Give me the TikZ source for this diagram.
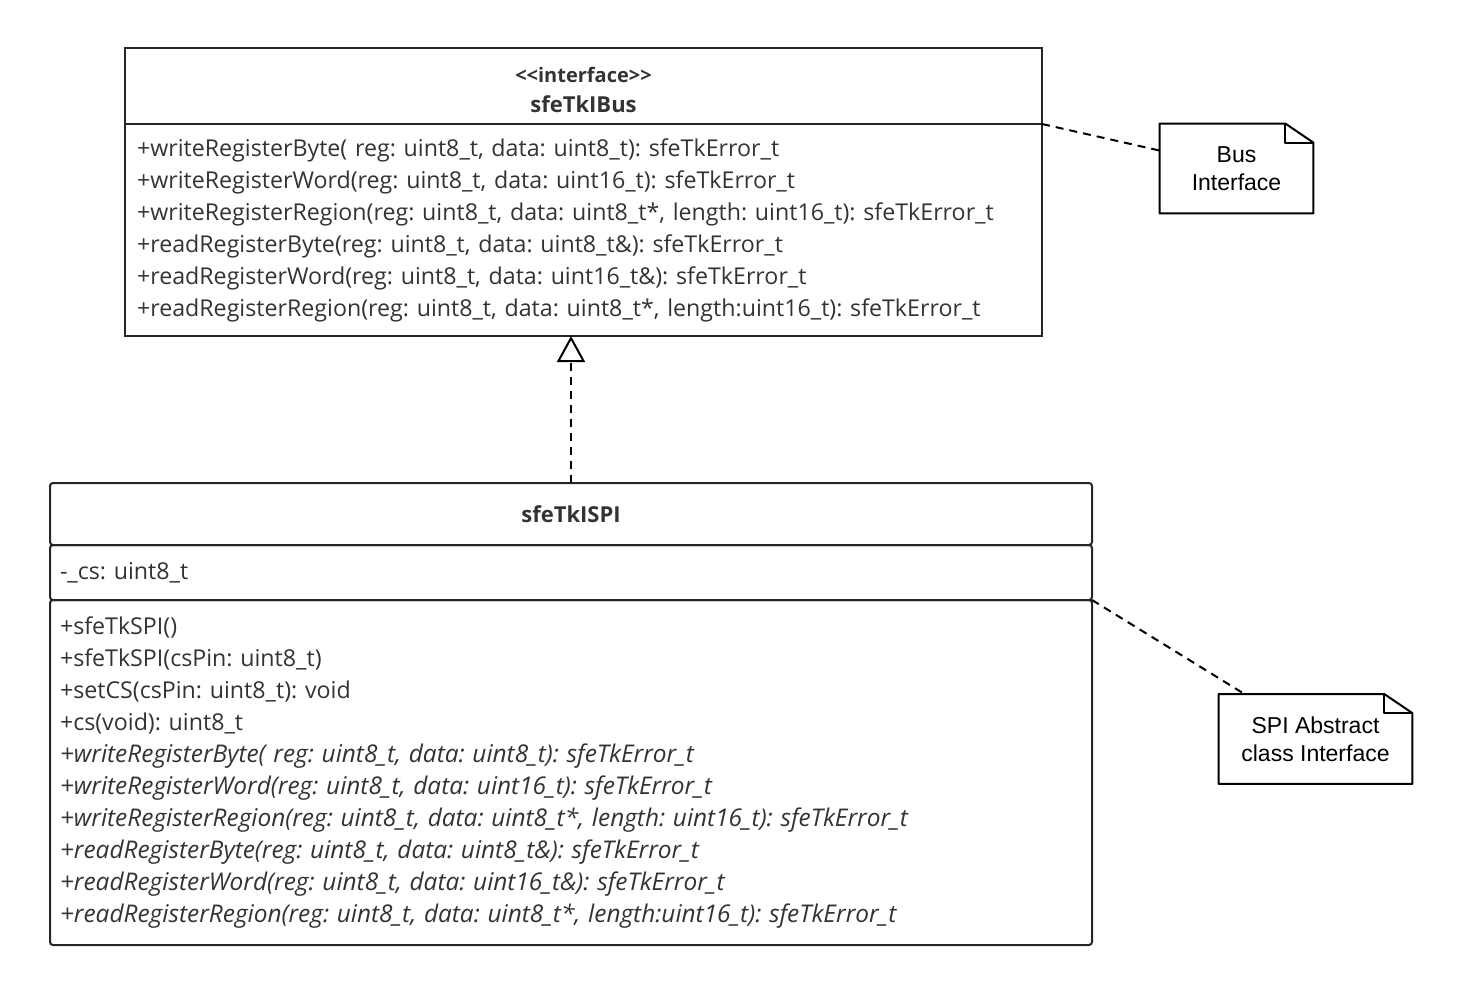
\documentclass[tikz,border=0pt]{standalone}
\usepackage{fontspec}
\setmainfont{Open Sans}
\newfontfamily\notefont{Liberation Sans}
\usetikzlibrary{arrows.meta,positioning,calc}
\frenchspacing

% outline of a UML note with a folded corner
\newcommand{\foldnote}[1]{%
  \draw[noteline] (#1.north west) -- ([xshift=-14pt]#1.north east) -- ([yshift=-9.5pt]#1.north east) -- (#1.south east) -- (#1.south west) -- cycle;
  \draw[noteline] ([xshift=-14pt]#1.north east) -- ([xshift=-14pt,yshift=-9.5pt]#1.north east) -- ([yshift=-9.5pt]#1.north east);
}
\newcommand{\abs}[1]{{\fontsize{12.2}{16}\itshape #1}}

\tikzset{
  part/.style={draw=black!85, line width=1pt, outer sep=0pt, inner xsep=6pt, inner ysep=0pt, align=left, text=black!80,
    font=\fontsize{11.6}{16}\selectfont},
  title/.style={part, align=center, font=\bfseries\fontsize{11}{15}\selectfont},
  spipart/.style={part, rounded corners=1.5pt, inner xsep=5pt},
  note/.style={draw=none, align=center, font=\notefont\fontsize{11.5}{14}\selectfont, minimum height=44.5pt},
  noteline/.style={line width=1pt, line join=round},
  link/.style={line width=1pt, dash pattern=on 4pt off 3pt},
  realize/.style={link, -{Triangle[open, length=13pt, width=14pt, line width=1pt]}}
}

\begin{document}
\begin{tikzpicture}[x=0.5pt, y=-0.5pt]
  \useasboundingbox (0,0) rectangle (1462,996);

  % interface
  \node [title, anchor=north west, minimum width=458.5pt, minimum height=38pt, text height=27pt] (ibushead) at (125,48)
    {{\fontsize{10}{15}\selectfont <{}<interface>{}>}\\sfeTkIBus};
  \node [part, below=0pt of ibushead, minimum width=458.5pt, minimum height=106pt, text width=446.5pt] (ibusops)
    {+writeRegisterByte( reg: uint8\_t, data: uint8\_t): sfeTkError\_t\\
     +writeRegisterWord(reg: uint8\_t, data: uint16\_t): sfeTkError\_t\\
     +writeRegisterRegion(reg: uint8\_t, data: uint8\_t*, length: uint16\_t): sfeTkError\_t\\
     +readRegisterByte(reg: uint8\_t, data: uint8\_t\&): sfeTkError\_t\\
     +readRegisterWord(reg: uint8\_t, data: uint16\_t\&): sfeTkError\_t\\
     +readRegisterRegion(reg: uint8\_t, data: uint8\_t*, length:uint16\_t): sfeTkError\_t};

  % SPI class
  \node [title, rounded corners=1.5pt, anchor=north west, minimum width=521pt, minimum height=31pt] (spihead) at (50,483) {sfeTkISPI};
  \node [spipart, below=0pt of spihead, minimum width=521pt, minimum height=27.5pt, text width=511pt] (spiattr) {-\_cs: uint8\_t};
  \node [spipart, below=0pt of spiattr, minimum width=521pt, minimum height=172.5pt, text width=511pt] (spiops)
    {+sfeTkSPI()\\
     +sfeTkSPI(csPin: uint8\_t)\\
     +setCS(csPin: uint8\_t): void\\
     +cs(void): uint8\_t\\
     \abs{+writeRegisterByte( reg: uint8\_t, data: uint8\_t): sfeTkError\_t}\\
     \abs{+writeRegisterWord(reg: uint8\_t, data: uint16\_t): sfeTkError\_t}\\
     \abs{+writeRegisterRegion(reg: uint8\_t, data: uint8\_t*, length: uint16\_t): sfeTkError\_t}\\
     \abs{+readRegisterByte(reg: uint8\_t, data: uint8\_t\&): sfeTkError\_t}\\
     \abs{+readRegisterWord(reg: uint8\_t, data: uint16\_t\&): sfeTkError\_t}\\
     \abs{+readRegisterRegion(reg: uint8\_t, data: uint8\_t*, length:uint16\_t): sfeTkError\_t}};

  % notes
  \node [note, minimum width=76.5pt] (busnote) at (1236.5,168.5) {Bus\\Interface};
  \node [note, minimum width=96.5pt] (spinote) at (1315.5,739) {SPI Abstract\\class Interface};
  \foldnote{busnote}
  \foldnote{spinote}

  \draw [realize] (spihead.north) -- (spihead.north |- ibusops.south);
  \draw [link] (ibusops.north east) -- ($(busnote.north west)!0.3!(busnote.south west)$);
  \draw [link] (spiops.north east) -- ([xshift=13pt]spinote.north west);
\end{tikzpicture}
\end{document}
